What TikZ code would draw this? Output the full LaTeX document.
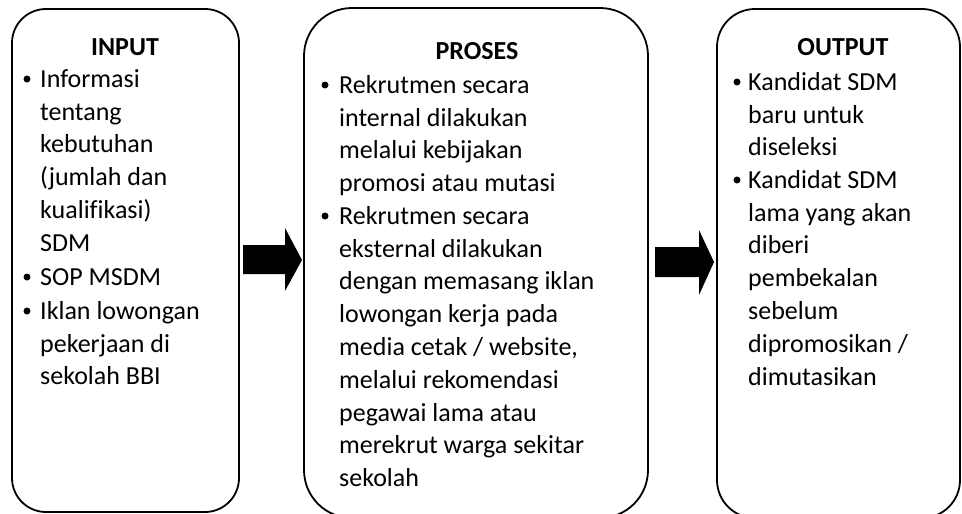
\documentclass[tikz,border=0pt]{standalone}
\usepackage{fontspec}
\setmainfont{Carlito}[Ligatures=NoCommon]
\newcommand\firstln{\rule{0pt}{20pt}}
\begin{document}
\begin{tikzpicture}[x=1pt,y=-1pt,
  boxshape/.style={draw=black,line width=1.8pt},
  ttl/.style={font={\fontsize{26}{32.8}\selectfont\bfseries},anchor=base,inner sep=0pt},
  item/.style={font={\fontsize{26}{32.8}\selectfont},anchor=north west,align=left,inner sep=0pt},
  bul/.style={circle,fill=black,inner sep=0pt,minimum size=7pt},
  blk/.style={fill=black}]
\useasboundingbox (0,0) rectangle (962,514);
% boxes
\draw[boxshape,rounded corners=34pt] (12,9) rectangle (239,512);
\draw[boxshape,rounded corners=48pt] (304,8) rectangle (648,518);
\draw[boxshape,rounded corners=38pt] (717,9) rectangle (960,518);
% block arrows
\fill[blk] (243,245) -- (285,245) -- (285,228) -- (302,260) -- (285,291) -- (285,274) -- (243,274) -- cycle;
\fill[blk] (655,247) -- (699,247) -- (699,230) -- (714,262) -- (699,295) -- (699,277) -- (655,277) -- cycle;
% INPUT
\node[ttl] (t1) at (125,55) {INPUT};
\node[bul] (b11) at (27,79) {};
\node[item] (i11) at (40,67) {\firstln Informasi\\tentang\\kebutuhan\\(jumlah dan\\kualifikasi)\\SDM};
\node[bul] (b12) at (27,277) {};
\node[item] (i12) at (40,265) {\firstln SOP MSDM};
\node[bul] (b13) at (27,311) {};
\node[item] (i13) at (40,299) {\firstln Iklan lowongan\\pekerjaan di\\sekolah BBI};
% PROSES
\node[ttl] (t2) at (477,59) {PROSES};
\node[bul] (b21) at (325,85) {};
\node[item] (i21) at (339,73) {\firstln Rekrutmen secara\\internal dilakukan\\melalui kebijakan\\promosi atau mutasi};
\node[bul] (b22) at (325,216) {};
\node[item] (i22) at (339,204) {\firstln Rekrutmen secara\\eksternal dilakukan\\dengan memasang iklan\\lowongan kerja pada\\media cetak / website,\\melalui rekomendasi\\pegawai lama atau\\merekrut warga sekitar\\sekolah};
% OUTPUT
\node[ttl] (t3) at (843,55) {OUTPUT};
\node[bul] (b31) at (737,82) {};
\node[item] (i31) at (748,70) {\firstln Kandidat SDM\\baru untuk\\diseleksi};
\node[bul] (b32) at (737,180) {};
\node[item] (i32) at (748,168) {\firstln Kandidat SDM\\lama yang akan\\diberi\\pembekalan\\sebelum\\dipromosikan /\\dimutasikan};
\end{tikzpicture}
\end{document}
